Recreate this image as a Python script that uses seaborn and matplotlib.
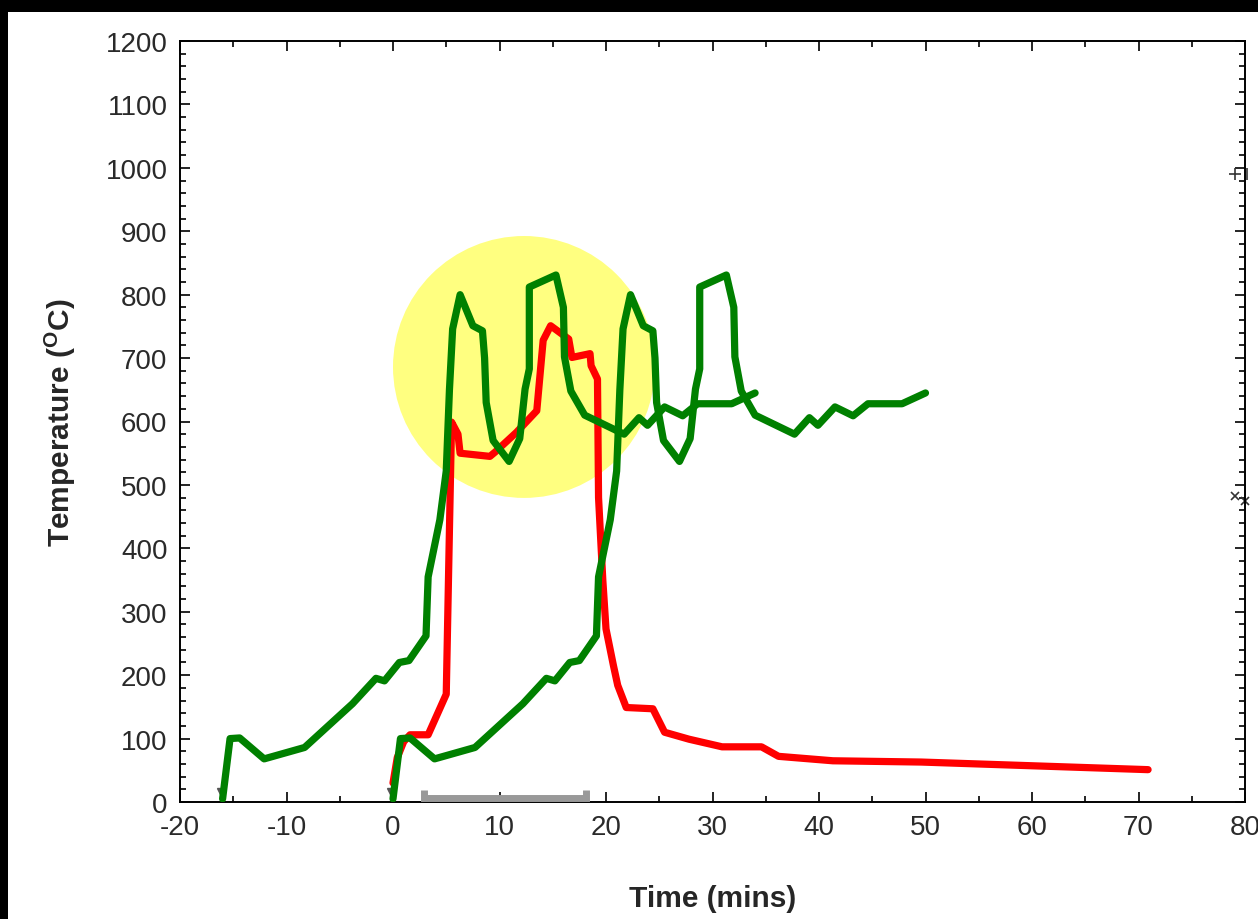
import matplotlib
matplotlib.use("Agg")
import matplotlib.pyplot as plt
import seaborn as sns
from matplotlib.patches import Ellipse, Rectangle
from matplotlib.ticker import MultipleLocator

# red run
red_time = [0.0, 0.4, 1.0, 1.6, 3.3, 5.0, 5.3, 5.5, 6.1, 6.3, 9.1, 9.6, 11.6, 13.5,
            14.1, 14.8, 16.5, 16.8, 18.5, 18.6, 19.2, 19.3, 19.7, 20.0, 20.7, 21.1,
            21.9, 24.4, 25.5, 27.8, 30.9, 34.6, 36.2, 41.3, 49.6, 70.9]
red_temp = [30, 70, 95, 106, 106, 170, 430, 599, 580, 550, 545, 552, 583, 617,
            728, 751, 730, 701, 707, 688, 667, 480, 350, 273, 215, 184,
            149, 147, 110, 99, 87, 87, 72, 65, 63, 51]

# green runs (same profile, second run starts 16 mins later)
green1_time = [-16.0, -15.3, -14.4, -12.1, -8.3, -3.8, -1.6, -0.8, 0.6, 1.5, 3.1,
               3.3, 4.4, 5.0, 5.3, 5.6, 6.3, 7.5, 8.4, 8.6, 8.75, 9.4, 10.9,
               11.9, 12.4, 12.8, 12.8, 15.3, 16.0, 16.1, 16.7, 18.0,
               21.7, 23.1, 23.9, 25.5, 27.2, 28.6, 31.8, 34.0]
green2_time = [0.0, 0.7, 1.6, 3.9, 7.7, 12.2, 14.4, 15.2, 16.6, 17.5, 19.1,
               19.3, 20.4, 21.0, 21.3, 21.6, 22.3, 23.5, 24.4, 24.6, 24.75, 25.4, 26.9,
               27.9, 28.4, 28.8, 28.8, 31.3, 32.0, 32.1, 32.7, 34.0,
               37.7, 39.1, 39.9, 41.5, 43.2, 44.6, 47.8, 50.0]
green_temp = [5, 100, 101, 68, 86, 155, 195, 191, 220, 223, 262,
              355, 445, 522, 650, 746, 800, 751, 743, 700, 630, 570, 537,
              573, 651, 683, 812, 831, 780, 702, 648, 610,
              580, 606, 594, 623, 609, 628, 628, 645]

# grey bracket on the time axis
bar_time = [2.9, 2.9, 18.1, 18.1]
bar_temp = [19, 6, 6, 19]

plt.rcParams['mathtext.fontset'] = 'custom'
plt.rcParams['mathtext.rm'] = 'Liberation Sans'
plt.rcParams['mathtext.bf'] = 'Liberation Sans:bold'

sns.set_style("ticks")
plt.rcParams['font.family'] = ['Liberation Sans', 'DejaVu Sans']
plt.rcParams['axes.unicode_minus'] = False

fig = plt.figure(figsize=(12.58, 9.2), dpi=100)
fig.patch.set_facecolor('black')
fig.patches.append(Rectangle((8 / 1258, 0), 1, (920 - 13) / 920, transform=fig.transFigure,
                             facecolor='white', edgecolor='none', zorder=-5))
ax = fig.add_axes([180 / 1258, 1 - 803 / 920, 1065 / 1258, 761 / 920])
ax.set_facecolor('white')

ax.add_patch(Ellipse((12.3, 686), 24.6, 413, facecolor='#ffff80', edgecolor='none', zorder=1))

sns.lineplot(x=red_time, y=red_temp, ax=ax, sort=False, estimator=None,
             color='#ff0000', linewidth=5.2, zorder=3)
sns.lineplot(x=green1_time, y=green_temp, ax=ax, sort=False, estimator=None,
             color='#008000', linewidth=5.2, zorder=4)
sns.lineplot(x=green2_time, y=green_temp, ax=ax, sort=False, estimator=None,
             color='#008000', linewidth=5.2, zorder=4)
ax.plot(bar_time, bar_temp, color='#999999', linewidth=5, solid_capstyle='butt',
        solid_joinstyle='miter', zorder=5, clip_on=False)

# small stray markers
ax.plot([-16.2, -0.3], [18, 18], 'v', color='#555555', markersize=4, zorder=2, clip_on=False)
ax.plot([79.1], [990], '+', color='#333333', markersize=8, mew=1.2, clip_on=False)
ax.plot([80.2], [990], '|', color='#333333', markersize=8, mew=1.2, clip_on=False)
ax.plot([79.1, 80.0], [483, 475], 'x', color='#333333', markersize=6, mew=1.2, clip_on=False)

ax.set_xlim(-20, 80)
ax.set_ylim(0, 1200)
ax.xaxis.set_major_locator(MultipleLocator(10))
ax.xaxis.set_minor_locator(MultipleLocator(5))
ax.yaxis.set_major_locator(MultipleLocator(100))
ax.yaxis.set_minor_locator(MultipleLocator(20))

ax.tick_params(which='both', direction='in', top=True, right=True, color='black', width=1.2)
ax.tick_params(which='major', length=7, labelsize=20, labelcolor='#2a2a2a', pad=9)
ax.tick_params(which='minor', length=4)
for s in ax.spines.values():
    s.set_color('black')
    s.set_linewidth(1.4)

ax.set_xlabel('Time (mins)', fontsize=21.5, fontweight='bold')
ax.set_ylabel(r'Temperature ($\mathbf{^{O}}$C)', fontsize=21.5, fontweight='bold')
ax.xaxis.set_label_coords(0.5, -0.108)
ax.yaxis.set_label_coords(-0.096, 0.5)

fig.savefig('out.png', dpi=100, facecolor=fig.get_facecolor())
